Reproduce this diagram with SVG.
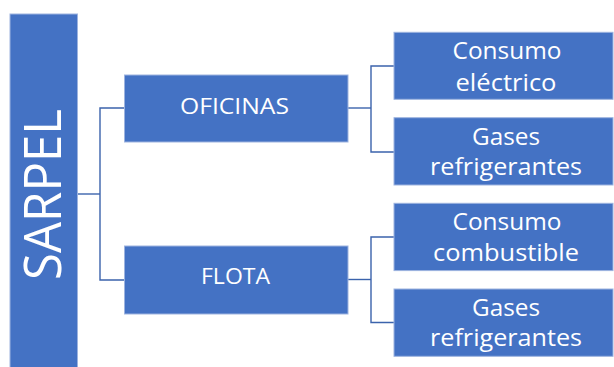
<svg xmlns="http://www.w3.org/2000/svg" width="614" height="367" viewBox="0 0 614 367">
<style>
.box{fill:#4472C4;stroke:#9DB3DF;stroke-width:1}
.t{font-family:"Open Sans","Liberation Sans",sans-serif;fill:#FFFFFF;text-anchor:middle}
.r{font-size:24px}
.c{fill:none;stroke:#3B63AC;stroke-width:1.4}
</style>
<rect width="614" height="367" fill="#FFFFFF"/>
<g id="connectors">
<polyline class="c" points="77,194 100,194"/>
<polyline class="c" points="124.5,108 100,108 100,280 124.5,280"/>
<polyline class="c" points="348,108 371,108"/>
<polyline class="c" points="394,66 371,66 371,152 394,152"/>
<polyline class="c" points="348,279.5 371,279.5"/>
<polyline class="c" points="394,237 371,237 371,322.5 394,322.5"/>
</g>
<g id="sarpel">
<rect class="box" x="10" y="14" width="67.5" height="356"/>
<text class="t" transform="translate(61,194.5) rotate(-90)" font-size="52" textLength="171" lengthAdjust="spacingAndGlyphs">SARPEL</text>
</g>
<g id="oficinas">
<rect class="box" x="124.5" y="75" width="223.5" height="67"/>
<text class="t" x="234.5" y="114" font-size="22.4" textLength="109" lengthAdjust="spacingAndGlyphs">OFICINAS</text>
</g>
<g id="flota">
<rect class="box" x="124.5" y="246" width="223.5" height="68"/>
<text class="t" x="235.5" y="284" font-size="22.4" textLength="69" lengthAdjust="spacingAndGlyphs">FLOTA</text>
</g>
<g id="consumo-electrico">
<rect class="box" x="394" y="32.3" width="219" height="67"/>
<text class="t r" x="507" y="59.3" textLength="109" lengthAdjust="spacingAndGlyphs">Consumo</text>
<text class="t r" x="506" y="90.7" textLength="101" lengthAdjust="spacingAndGlyphs">eléctrico</text>
</g>
<g id="gases-oficinas">
<rect class="box" x="394" y="117.7" width="219" height="67.3"/>
<text class="t r" x="506" y="145" textLength="68" lengthAdjust="spacingAndGlyphs">Gases</text>
<text class="t r" x="506" y="174.8" textLength="152" lengthAdjust="spacingAndGlyphs">refrigerantes</text>
</g>
<g id="consumo-combustible">
<rect class="box" x="394" y="203.3" width="219" height="67.3"/>
<text class="t r" x="507" y="229.5" textLength="109" lengthAdjust="spacingAndGlyphs">Consumo</text>
<text class="t r" x="506" y="261" textLength="146" lengthAdjust="spacingAndGlyphs">combustible</text>
</g>
<g id="gases-flota">
<rect class="box" x="394" y="289" width="219" height="67.3"/>
<text class="t r" x="506" y="315.5" textLength="68" lengthAdjust="spacingAndGlyphs">Gases</text>
<text class="t r" x="506" y="345.7" textLength="152" lengthAdjust="spacingAndGlyphs">refrigerantes</text>
</g>
</svg>
